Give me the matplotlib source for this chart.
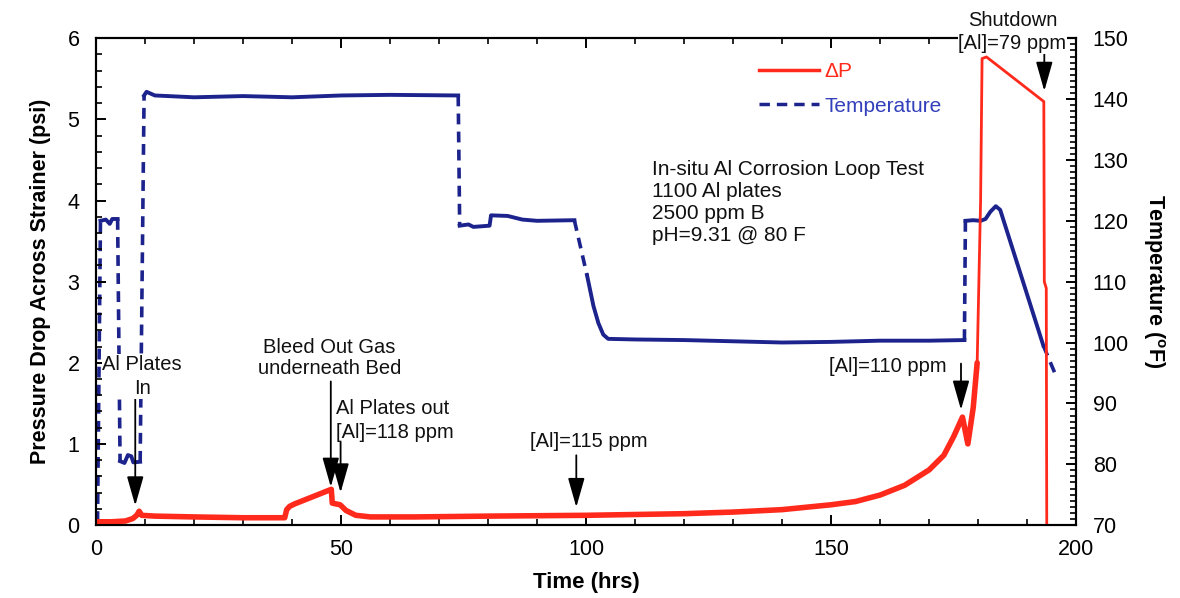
import numpy as np
import matplotlib.pyplot as plt
from matplotlib.lines import Line2D
from matplotlib.ticker import MultipleLocator

plt.rcParams['font.family'] = ['Liberation Sans', 'DejaVu Sans']

# --- Pressure drop across strainer (psi) vs time (hrs)
dp_time = [0, 3, 6, 7.5, 8.3, 8.8, 9.3, 12, 20, 30, 38.5, 38.9, 39.5, 40.5,
           48.0, 48.2, 49.8, 51, 53, 56, 65, 80, 100, 120, 130, 140, 150,
           155, 160, 165, 170, 173, 175, 176.8, 177.9, 179.0, 179.8, 180.5,
           180.8, 181.7, 193.4, 193.5, 193.9, 194.0]
dp_val = [0.04, 0.04, 0.05, 0.08, 0.12, 0.17, 0.12, 0.11, 0.10, 0.09, 0.09,
          0.19, 0.23, 0.26, 0.44, 0.27, 0.25, 0.18, 0.12, 0.10, 0.10, 0.11,
          0.12, 0.14, 0.16, 0.19, 0.25, 0.29, 0.37, 0.49, 0.68, 0.86, 1.09,
          1.33, 1.00, 1.45, 2.00, 4.00, 5.75, 5.77, 5.22, 3.00, 2.92, 0.0]

# --- Loop temperature (F)
temp_time = [0.3, 0.9, 2.0, 2.8, 3.3, 4.4, 4.9, 5.8, 6.5, 7.2, 7.6, 9.0,
             9.8, 10.3, 12, 20, 30, 40, 50, 60, 73.9, 74.2, 76, 77, 80.3,
             80.6, 84, 87, 90, 97.6, 100.2, 101.5, 102.5, 103.5, 104.5, 110,
             120, 130, 140, 150, 160, 170, 177.2, 177.4, 179, 180.5, 181.5,
             182.5, 183.6, 184.5, 193.3, 196.0]
temp_val = [70.5, 120.0, 120.2, 119.5, 120.3, 120.3, 80.5, 80.2, 81.5, 81.3,
            80.3, 80.4, 140.6, 141.2, 140.6, 140.3, 140.5, 140.3, 140.6,
            140.7, 140.6, 119.2, 119.4, 119.0, 119.2, 120.9, 120.8, 120.2,
            120.0, 120.1, 111.0, 106.0, 103.2, 101.3, 100.6, 100.5, 100.4,
            100.2, 100.0, 100.1, 100.3, 100.3, 100.4, 120.0, 120.1, 120.0,
            120.3, 121.5, 122.4, 121.8, 99.5, 94.3]
# fast steps (start time of the step) are drawn dashed
temp_steps = [0.3, 4.4, 9.0, 73.9, 97.6, 177.2, 193.3]

# label, text position, alignment, line spacing, arrow start, arrow tip
notes = [
    ("Al Plates\nIn", (9.4, 1.83), 'center', 1.35, (8.0, 1.55), (8.0, 0.24)),
    ("Bleed Out Gas\nunderneath Bed", (47.6, 2.06), 'center', 1.1, (47.9, 1.77), (47.9, 0.47)),
    ("Al Plates out\n[Al]=118 ppm", (49.0, 1.29), 'left', 1.3, (49.9, 1.05), (49.9, 0.40)),
    ("[Al]=115 ppm", (100.6, 1.03), 'center', 1.2, (98.0, 0.86), (98.0, 0.22)),
    ("[Al]=110 ppm", (161.6, 1.95), 'center', 1.2, (176.5, 1.99), (176.5, 1.42)),
    ("Shutdown\n[Al]=79 ppm", (187.0, 6.08), 'center', 1.3, (193.5, 5.83), (193.5, 5.35)),
]

info_text = "In-situ Al Corrosion Loop Test\n1100 Al plates\n2500 ppm B\npH=9.31 @ 80 F"

red = '#ff2a1c'
blue = '#1c238c'

fig, ax = plt.subplots(figsize=(11.8, 5.98), dpi=100)
fig.subplots_adjust(left=0.0814, right=0.912, bottom=0.122, top=0.936)
ax2 = ax.twinx()
ax.set_zorder(ax2.get_zorder() + 1)
ax.patch.set_visible(False)

# temperature: solid pieces, dashed steps
t = np.array(temp_time)
v = np.array(temp_val)
solid_t, solid_v = [], []
for i in range(len(t)):
    solid_t.append(t[i])
    solid_v.append(v[i])
    if i < len(t) - 1 and t[i] in temp_steps:
        ax2.plot(t[i:i + 2], v[i:i + 2], color=blue, lw=2.6,
                 dashes=(3, 2), solid_capstyle='butt')
        solid_t.append(np.nan)
        solid_v.append(np.nan)
ax2.plot(solid_t, solid_v, color=blue, lw=2.8)

# pressure drop: thin everywhere, heavier in the noisy low range
dt = np.array(dp_time)
dv = np.array(dp_val)
ax.plot(dt, dv, color=red, lw=2.0)
low = dt <= 179.8
ax.plot(dt[low], dv[low], color=red, lw=4.0, solid_capstyle='round')

for label, pos, ha, ls, start, end in notes:
    ax.annotate('', xy=end, xytext=start,
                arrowprops=dict(arrowstyle='-|>,head_length=0.95,head_width=0.27',
                                color='black', lw=1.3, shrinkA=0, shrinkB=0,
                                mutation_scale=19))
    ax.text(pos[0], pos[1], label, ha=ha, va='center', fontsize=14.5,
            color='#111111', linespacing=ls, clip_on=False, zorder=5,
            bbox=dict(facecolor='white', edgecolor='none', pad=0.5))

ax.text(113.5, 3.97, info_text, ha='left', va='center', fontsize=15,
        color='#111111', linespacing=1.2)

handles = [Line2D([], [], color=red, lw=2.5),
           Line2D([], [], color=blue, lw=2.5, dashes=(3, 2))]
leg = ax.legend(handles, ['\u0394P', 'Temperature'], loc='upper left',
                bbox_to_anchor=(0.657, 0.99), frameon=False, fontsize=15,
                handlelength=2.9, handletextpad=0.25, labelspacing=0.75)
leg.get_texts()[0].set_color(red)
leg.get_texts()[1].set_color('#3340bb')

ax.set_xlim(0, 200)
ax.set_ylim(0, 6)
ax2.set_ylim(70, 150)
ax.xaxis.set_major_locator(MultipleLocator(50))
ax.xaxis.set_minor_locator(MultipleLocator(10))
ax.yaxis.set_major_locator(MultipleLocator(1))
ax.yaxis.set_minor_locator(MultipleLocator(0.2))
ax2.yaxis.set_major_locator(MultipleLocator(10))
ax2.yaxis.set_minor_locator(MultipleLocator(1))

ax.tick_params(axis='x', which='both', direction='in', top=True, labelsize=15.5, pad=10)
ax.tick_params(axis='y', which='both', direction='in', right=False, labelsize=15.5, pad=12)
ax.tick_params(which='major', length=7, width=1.4)
ax.tick_params(which='minor', length=4, width=1.2)
ax2.tick_params(axis='y', which='both', direction='in', labelsize=15.5, pad=12)
ax2.tick_params(which='major', length=7, width=1.4)
ax2.tick_params(which='minor', length=4, width=1.2)
for a in (ax, ax2):
    for s in a.spines.values():
        s.set_linewidth(1.5)

ax.set_xlabel('Time (hrs)', fontsize=16, fontweight='bold', labelpad=9)
ax.set_ylabel('Pressure Drop Across Strainer (psi)', fontsize=15.5,
              fontweight='bold', labelpad=12)
ax2.set_ylabel('Temperature ($\\mathregular{^o}$F)', fontsize=15.5,
               fontweight='bold', rotation=270, labelpad=27)

fig.savefig('out.png', dpi=100)
